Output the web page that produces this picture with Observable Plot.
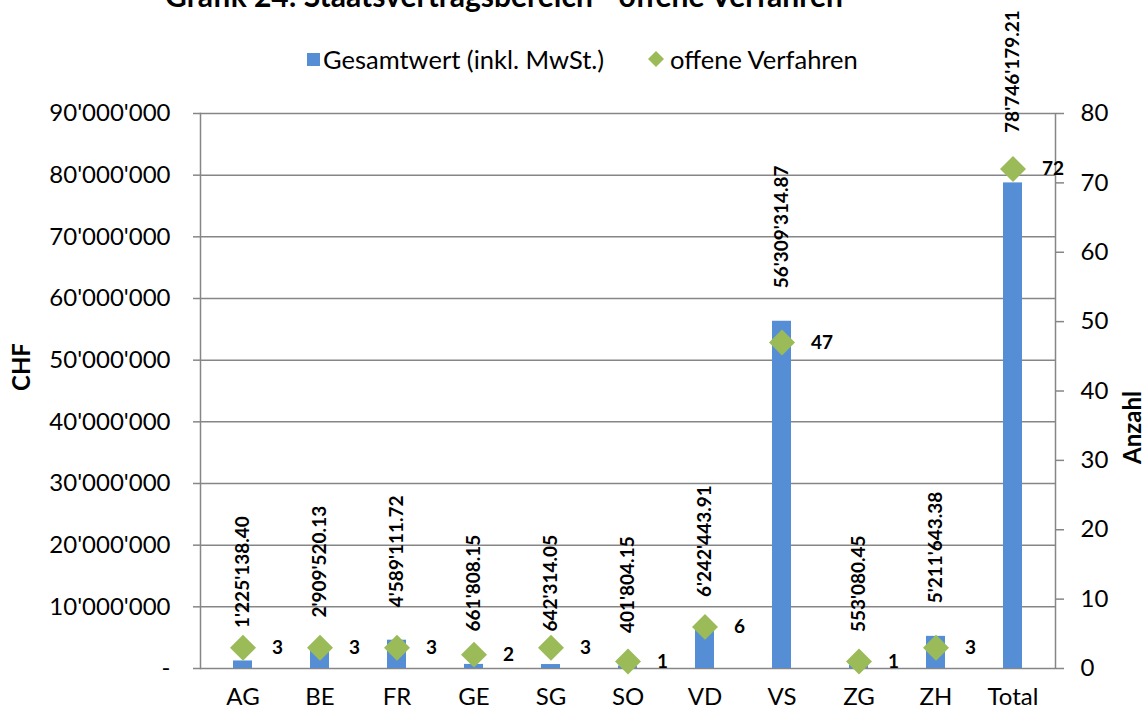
<!DOCTYPE html>
<html>
<head>
<meta charset="utf-8">
<script src="https://cdn.jsdelivr.net/npm/d3@7"></script>
<script src="https://cdn.jsdelivr.net/npm/@observablehq/plot@0.6"></script>
<style>
  html, body { margin: 0; padding: 0; background: white; }
  #wrap { position: relative; width: 1146px; height: 712px; overflow: hidden; font-family: Lato, sans-serif; }
  #title { position: absolute; top: -23px; left: 0; width: 1008px; text-align: center; font-weight: bold; font-size: 30px; line-height: 36px; white-space: nowrap; }
  #legend { position: relative; height: 80px; font-size: 25.5px; }
  .li { position: absolute; top: 43px; display: flex; align-items: center; line-height: 32px; }
  .sw { display: inline-block; width: 13px; height: 13px; background: #558ED5; margin-right: 3px; }
</style>
</head>
<body>
<div id="wrap">
  <div id="title">Grafik 24: Staatsvertragsbereich - offene Verfahren</div>
  <div id="legend">
    <div class="li" style="left:307px"><span class="sw"></span><span>Gesamtwert (inkl. MwSt.)</span></div>
    <div class="li" style="left:646px"><svg width="20" height="20" style="margin-right:4px"><path d="M10,2L18,10L10,18L2,10Z" fill="#9BBB59"/></svg><span>offene Verfahren</span></div>
  </div>
  <div id="chart"></div>
</div>
<script>
const categories = ["AG", "BE", "FR", "GE", "SG", "SO", "VD", "VS", "ZG", "ZH", "Total"];
const gesamtwert = [1225138.40, 2909520.13, 4589111.72, 661808.15, 642314.05, 401804.15, 6242443.91, 56309314.87, 553080.45, 5211643.38, 78746179.21];
const verfahren = [3, 3, 3, 2, 3, 1, 6, 47, 1, 3, 72];
const chfTicks = [0, 10000000, 20000000, 30000000, 40000000, 50000000, 60000000, 70000000, 80000000, 90000000];
const anzahlTicks = [0, 10, 20, 30, 40, 50, 60, 70, 80];

const k = 90000000 / 80; // map count axis (0–80) onto CHF axis (0–90M)
const rows = categories.map((c, i) => ({cat: c, value: gesamtwert[i], count: verfahren[i]}));
const apos = s => s.replace(/,/g, "'");
const fmtAxis = d => d === 0 ? "-" : apos(d3.format(",")(d));
const fmtVal = d => apos(d3.format(",.2f")(d));
const grey = "#868686";

const chart = Plot.plot({
  width: 1146,
  height: 632,
  marginTop: 33,
  marginBottom: 44,
  marginLeft: 200,
  marginRight: 91,
  style: {fontFamily: "Lato, sans-serif", overflow: "visible", background: "white", color: "black"},
  x: {domain: categories, paddingInner: 0.755, paddingOuter: 0.3775, axis: null},
  y: {domain: [0, 90000000], axis: null},
  marks: [
    Plot.gridY(chfTicks, {stroke: grey, strokeOpacity: 1, strokeWidth: 1.5}),
    Plot.barY(rows, {x: "cat", y: "value", fill: "#558ED5"}),
    Plot.frame({anchor: "left", stroke: grey, strokeWidth: 1.5}),
    Plot.frame({anchor: "right", stroke: grey, strokeWidth: 1.5}),
    Plot.axisY(chfTicks, {anchor: "left", tickSize: 7, tickPadding: 23, tickFormat: fmtAxis, stroke: grey, strokeWidth: 1.5, fill: "black", fontSize: 24, label: null}),
    Plot.axisY(anzahlTicks.map(c => c * k), {anchor: "right", tickSize: 8, tickPadding: 17, tickFormat: d => String(Math.round(d / k)), stroke: grey, strokeWidth: 1.5, fill: "black", fontSize: 24, label: null}),
    Plot.axisX({tickSize: 0, tickPadding: 19, fontSize: 24, fill: "black", label: null}),
    Plot.text(["CHF"], {frameAnchor: "left", text: d => d, rotate: -90, dx: -178, fontSize: 24, fontWeight: "bold", fill: "black"}),
    Plot.text(["Anzahl"], {frameAnchor: "right", text: d => d, rotate: -90, dx: 78, fontSize: 24, fontWeight: "bold", fill: "black"}),
    Plot.dot(rows, {x: "cat", y: d => d.count * k, symbol: "diamond2", r: 11.7, fill: "#9BBB59", stroke: null}),
    Plot.text(rows, {x: "cat", y: d => d.count * k, text: d => String(d.count), dx: 29, textAnchor: "start", fontSize: 19, fontWeight: "bold", fill: "black"}),
    Plot.text(rows.filter(d => d.cat !== "Total"), {x: "cat", y: "value", text: d => fmtVal(d.value), rotate: -90, textAnchor: "start", dy: -33, fontSize: 19, fontWeight: "bold", fill: "black"}),
    Plot.text(rows.filter(d => d.cat === "Total"), {x: "cat", y: "value", text: d => fmtVal(d.value), rotate: -90, textAnchor: "start", dy: -50, fontSize: 19, fontWeight: "bold", fill: "black"})
  ]
});
document.getElementById("chart").appendChild(chart);
</script>
</body>
</html>
